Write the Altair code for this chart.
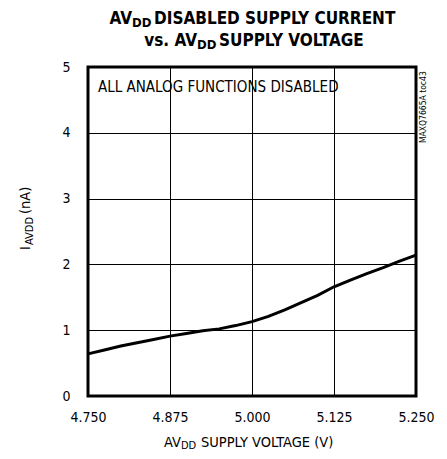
import altair as alt
import pandas as pd

voltage = [4.750, 4.775, 4.800, 4.825, 4.850, 4.875, 4.900, 4.925, 4.950, 4.975,
           5.000, 5.025, 5.050, 5.075, 5.100, 5.125, 5.150, 5.175, 5.200, 5.225, 5.250]
current = [0.64, 0.70, 0.76, 0.81, 0.86, 0.91, 0.95, 0.99, 1.02, 1.07,
           1.13, 1.21, 1.31, 1.42, 1.53, 1.66, 1.76, 1.86, 1.95, 2.05, 2.14]
x_ticks = [4.750, 4.875, 5.000, 5.125, 5.250]
y_ticks = [0, 1, 2, 3, 4, 5]

FONT = "DejaVu Sans Condensed"

df = pd.DataFrame({"v": voltage, "i": current})

line = alt.Chart(df).mark_line(color="black", strokeWidth=3).encode(
    x=alt.X("v:Q", scale=alt.Scale(domain=[4.75, 5.25], nice=False),
            axis=alt.Axis(values=x_ticks, format=".3f", title=None, grid=True,
                          ticks=False, domain=False, labelFont=FONT,
                          labelFontSize=14, labelPadding=14, labelColor="black",
                          labelFlush=False, labelOverlap=False)),
    y=alt.Y("i:Q", scale=alt.Scale(domain=[0, 5], nice=False),
            axis=alt.Axis(values=y_ticks, format="d", title=None, grid=True,
                          ticks=False, domain=False, labelFont=FONT,
                          labelFontSize=14, labelPadding=18, labelColor="black",
                          labelFlush=False, labelOverlap=False)),
)


def txt(s, x, y, size, bold=False, align="left", angle=0):
    kw = dict(align=align, baseline="alphabetic", font=FONT, fontSize=size,
              fontWeight="bold" if bold else "normal", color="black")
    if angle:
        kw["angle"] = angle
    return alt.Chart(pd.DataFrame({"t": [s]})).mark_text(**kw).encode(
        text="t:N", x=alt.value(x), y=alt.value(y))


texts = [
    # title line 1
    txt("AV", 44, -43.5, 17, True, "right"),
    txt("DD", 44, -40.5, 13, True),
    txt("DISABLED SUPPLY CURRENT", 66, -43.5, 17, True),
    # title line 2
    txt("vs. AV", 109, -21.5, 17, True, "right"),
    txt("DD", 109, -18.5, 13, True),
    txt("SUPPLY VOLTAGE", 131, -21.5, 17, True),
    # x title
    txt("AV", 93, 379.5, 14.5, False, "right"),
    txt("DD", 93, 382, 11),
    txt("SUPPLY VOLTAGE (V)", 113, 379.5, 14.5),
    # y title
    txt("I", -58, 183, 14.5, False, "left", 270),
    txt("AVDD", -55, 178, 11, False, "left", 270),
    txt("(nA)", -58, 147, 14.5, False, "left", 270),
    # annotations
    txt("ALL ANALOG FUNCTIONS DISABLED", 10, 25, 15),
    txt("MAXQ7665A toc43", 338, 76, 8.5, False, "left", 270),
]

chart = alt.layer(line, *texts).properties(
    width=328, height=329,
    padding={"left": 80, "top": 59, "right": 20, "bottom": 55},
    autosize=alt.AutoSizeParams(type="none"),
).configure_view(
    stroke="black", strokeWidth=3
).configure_axis(
    gridColor="black", gridWidth=1, gridOpacity=1
)

chart.save("out.html", embed_options={"renderer": "svg", "actions": False})
